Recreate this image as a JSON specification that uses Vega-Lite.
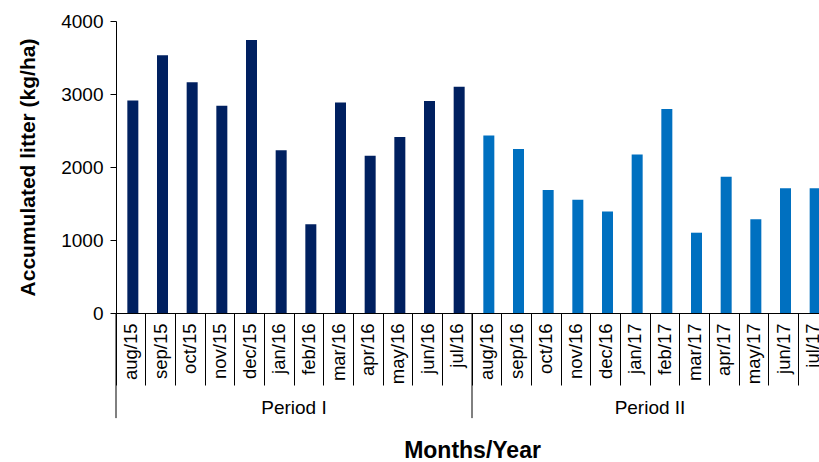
{
  "$schema": "https://vega.github.io/schema/vega-lite/v6.json",
  "autosize": "none",
  "width": 703,
  "height": 292,
  "padding": {"left": 116, "top": 21, "right": 0, "bottom": 149},
  "background": "white",
  "config": {
    "view": {"stroke": null},
    "font": "Liberation Sans",
    "axis": {"grid": false, "domainColor": "black", "tickColor": "black", "labelColor": "black", "titleColor": "black", "labelFont": "Liberation Sans", "titleFont": "Liberation Sans"}
  },
  "datasets": {
    "months": [
      {"month": "aug/15", "litter": 2910, "period": "Period I"},
      {"month": "sep/15", "litter": 3530, "period": "Period I"},
      {"month": "oct/15", "litter": 3160, "period": "Period I"},
      {"month": "nov/15", "litter": 2840, "period": "Period I"},
      {"month": "dec/15", "litter": 3740, "period": "Period I"},
      {"month": "jan/16", "litter": 2230, "period": "Period I"},
      {"month": "feb/16", "litter": 1215, "period": "Period I"},
      {"month": "mar/16", "litter": 2885, "period": "Period I"},
      {"month": "apr/16", "litter": 2155, "period": "Period I"},
      {"month": "may/16", "litter": 2410, "period": "Period I"},
      {"month": "jun/16", "litter": 2905, "period": "Period I"},
      {"month": "jul/16", "litter": 3100, "period": "Period I"},
      {"month": "aug/16", "litter": 2430, "period": "Period II"},
      {"month": "sep/16", "litter": 2245, "period": "Period II"},
      {"month": "oct/16", "litter": 1685, "period": "Period II"},
      {"month": "nov/16", "litter": 1550, "period": "Period II"},
      {"month": "dec/16", "litter": 1390, "period": "Period II"},
      {"month": "jan/17", "litter": 2170, "period": "Period II"},
      {"month": "feb/17", "litter": 2795, "period": "Period II"},
      {"month": "mar/17", "litter": 1100, "period": "Period II"},
      {"month": "apr/17", "litter": 1865, "period": "Period II"},
      {"month": "may/17", "litter": 1285, "period": "Period II"},
      {"month": "jun/17", "litter": 1710, "period": "Period II"},
      {"month": "jul/17", "litter": 1710, "period": "Period II"}
    ],
    "periods": [
      {"period": "Period I", "start": "aug/15", "mid": "jan/16"},
      {"period": "Period II", "start": "aug/16", "mid": "jan/17"}
    ]
  },
  "layer": [
    {
      "data": {"name": "months"},
      "mark": {"type": "bar", "width": 11, "xOffset": 2},
      "encoding": {
        "x": {
          "field": "month", "type": "nominal", "title": "Months/Year",
          "scale": {"domain": ["aug/15","sep/15","oct/15","nov/15","dec/15","jan/16","feb/16","mar/16","apr/16","may/16","jun/16","jul/16","aug/16","sep/16","oct/16","nov/16","dec/16","jan/17","feb/17","mar/17","apr/17","may/17","jun/17","jul/17"], "range": [0, 712], "paddingInner": 0, "paddingOuter": 0},
          "axis": {"labelAngle": -90, "labelFontSize": 18.5, "tickSize": 72, "bandPosition": 0, "labelPadding": -62, "titleFontSize": 23, "titleFontWeight": "bold", "titlePadding": 54, "domainWidth": 1, "tickWidth": 1}
        },
        "y": {
          "field": "litter", "type": "quantitative", "title": "Accumulated litter (kg/ha)",
          "scale": {"domain": [0, 4000], "nice": false},
          "axis": {"values": [0,500,1000,1500,2000,2500,3000,3500,4000], "format": "d", "labelFontSize": 19, "tickSize": 6, "labelPadding": 7, "titleFontSize": 21, "titleFontWeight": "bold", "titlePadding": 22}
        },
        "color": {"field": "period", "type": "nominal", "scale": {"domain": ["Period I", "Period II"], "range": ["#002060", "#0070C0"]}, "legend": null}
      }
    },
    {
      "data": {"name": "periods"},
      "mark": {"type": "rule", "color": "black", "strokeWidth": 1},
      "encoding": {
        "x": {"field": "start", "type": "nominal", "bandPosition": 0, "title": "Months/Year"},
        "y": {"datum": 0, "type": "quantitative"},
        "y2": {"datum": -1440}
      }
    },
    {
      "data": {"name": "periods"},
      "mark": {"type": "text", "fontSize": 19, "color": "black", "baseline": "middle", "align": "center"},
      "encoding": {
        "x": {"field": "mid", "type": "nominal", "bandPosition": 1, "title": "Months/Year"},
        "y": {"datum": -1300, "type": "quantitative"},
        "text": {"field": "period"}
      }
    }
  ]
}
